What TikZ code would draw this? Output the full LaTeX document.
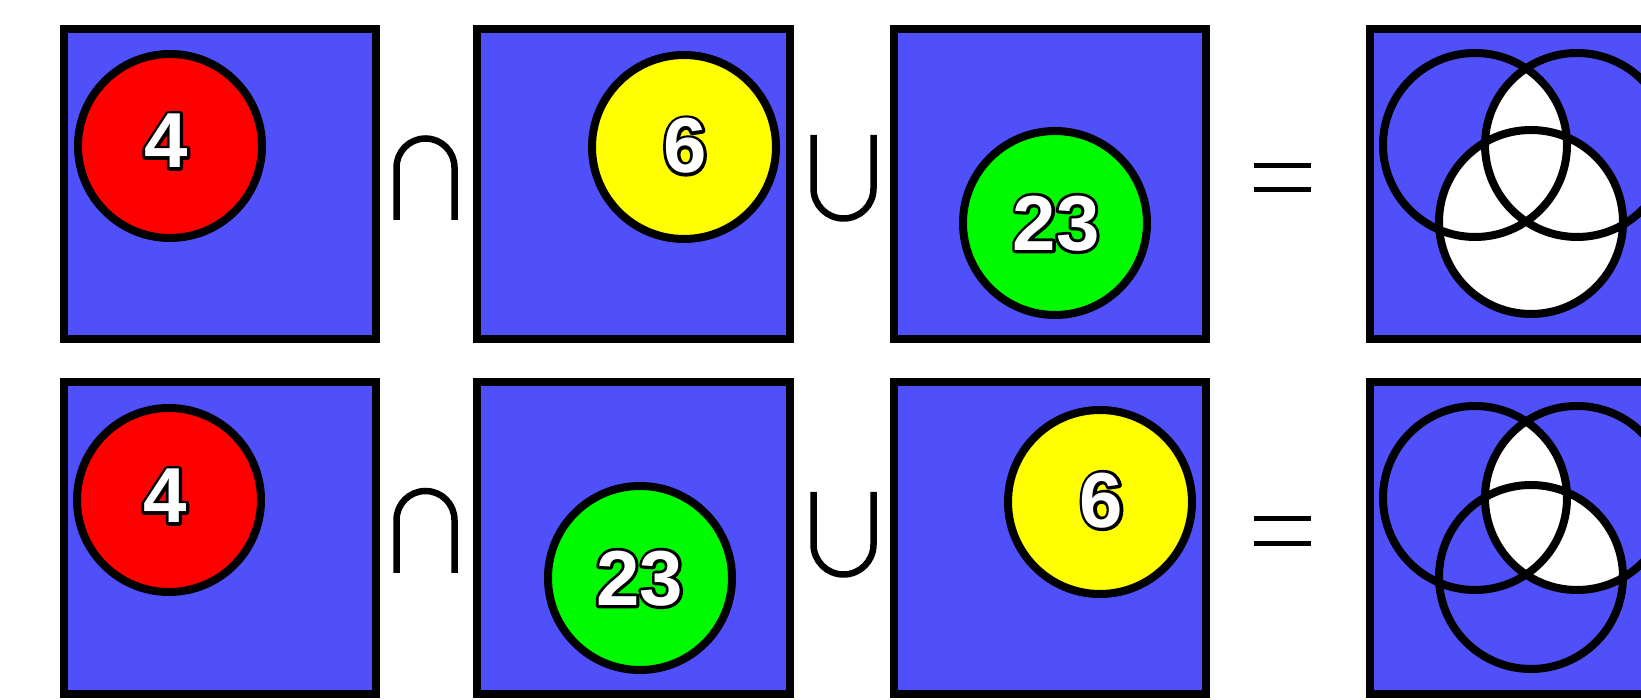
\documentclass[tikz,border=0pt]{standalone}
\usepackage{fontspec}
\setmainfont{Liberation Sans}
\definecolor{bgblue}{RGB}{80,80,250}
\definecolor{cred}{RGB}{255,0,0}
\definecolor{cyel}{RGB}{255,255,0}
\definecolor{cgreen}{RGB}{0,250,0}
\tikzset{
  panel/.style={draw=black, fill=bgblue, line width=8pt},
  ball/.style={draw=black, line width=8pt},
  ring/.style={draw=black, line width=8pt},
  opsym/.style={draw=black, line width=6.5pt},
  eqsym/.style={draw=black, line width=5pt},
  numtxt/.style={font=\fontsize{78}{80}\selectfont\bfseries, inner sep=0pt},
}
\newcommand\halo[1]{\special{pdf:literal direct 2 Tr 0 0 0 RG 6 w 1 j}#1\special{pdf:literal direct 0 Tr}}
\newcommand\ballnum[3]{%
  \node[numtxt,text=black] (#1b) at (#2) {\halo{#3}};%
  \node[numtxt,text=white] (#1) at (#2) {#3};}
\begin{document}
\begin{tikzpicture}[x=1pt,y=1pt]
\useasboundingbox (0,0) rectangle (1641,700);
\clip (0,0) rectangle (1641,700);
\fill[white] (0,0) rectangle (1641,700);

% ---------- row 1 ----------
\draw[panel] (64,361) rectangle (376,671);
\draw[ball, fill=cred] (170,554) circle[radius=92];
\ballnum{n11}{166,559}{4}

\draw[opsym] (396.5,480) -- (396.5,532.5) arc[start angle=180,end angle=0,radius=29] -- (454.5,480);

\draw[panel] (477,361) rectangle (790,671);
\draw[ball, fill=cyel] (684,553) circle[radius=92];
\ballnum{n12}{685,554}{6}

\draw[opsym] (813.5,565) -- (813.5,511.5) arc[start angle=180,end angle=360,radius=30] -- (873.5,565);

\draw[panel] (894,361) rectangle (1206,671);
\draw[ball, fill=cgreen] (1055,477) circle[radius=92];
\ballnum{n13}{1056,476.5}{23}

\draw[eqsym] (1254,534) -- (1311,534);
\draw[eqsym] (1254,510) -- (1311,510);

\draw[panel] (1370,361) rectangle (1682,671);
\fill[white] (1531,478) circle[radius=92];
\begin{scope}
  \clip (1475,555) circle[radius=92];
  \fill[white] (1577,555) circle[radius=92];
\end{scope}
\draw[ring] (1475,555) circle[radius=92] (1577,555) circle[radius=92] (1531,478) circle[radius=92];

% ---------- row 2 ----------
\draw[panel] (64,6) rectangle (376,318);
\draw[ball, fill=cred] (169,200) circle[radius=92];
\ballnum{n21}{165,204}{4}

\draw[opsym] (396.5,127) -- (396.5,180) arc[start angle=180,end angle=0,radius=29] -- (454.5,127);

\draw[panel] (477,6) rectangle (790,318);
\draw[ball, fill=cgreen] (640,122) circle[radius=92];
\ballnum{n22}{639.5,121.5}{23}

\draw[opsym] (813.5,208) -- (813.5,155.5) arc[start angle=180,end angle=360,radius=30] -- (873.5,208);

\draw[panel] (894,6) rectangle (1206,318);
\draw[ball, fill=cyel] (1100,198) circle[radius=92];
\ballnum{n23}{1101.5,199.5}{6}

\draw[eqsym] (1254,181) -- (1311,181);
\draw[eqsym] (1254,156) -- (1311,156);

\draw[panel] (1370,6) rectangle (1682,318);
\begin{scope}
  \clip (1577,202) circle[radius=92];
  \fill[white] (1475,202) circle[radius=92] (1531,123) circle[radius=92];
\end{scope}
\draw[ring] (1475,202) circle[radius=92] (1577,202) circle[radius=92] (1531,123) circle[radius=92];
\end{tikzpicture}
\end{document}
